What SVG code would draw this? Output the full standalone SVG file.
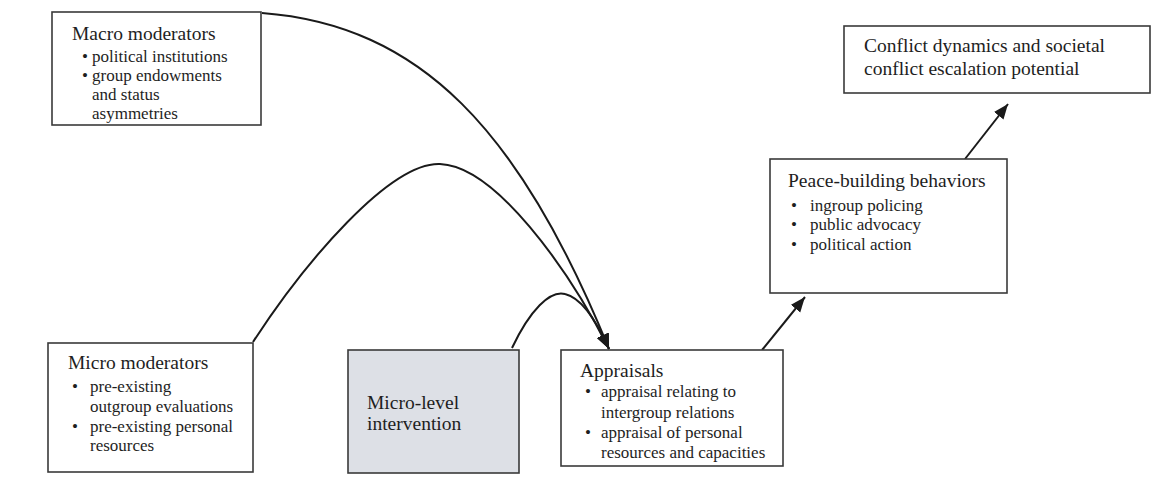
<svg xmlns="http://www.w3.org/2000/svg" width="1157" height="487" viewBox="0 0 1157 487">
<style>
  .box { fill: #ffffff; stroke: #3a3a3a; stroke-width: 1.6; }
  .gray { fill: #dde0e6; }
  .title { font-family: "Liberation Serif", "Times New Roman", serif; font-size: 19.5px; fill: #1e1e1e; }
  .item { font-family: "Liberation Serif", "Times New Roman", serif; font-size: 17px; fill: #1e1e1e; }
  .conn { fill: none; stroke: #1a1a1a; stroke-width: 2; }
</style>
<defs>
  <marker id="arrow" markerUnits="userSpaceOnUse" markerWidth="16" markerHeight="14" refX="15" refY="6" orient="auto">
    <path d="M0,0 L15,6 L0,12 z" fill="#1a1a1a"/>
  </marker>
</defs>
<rect width="1157" height="487" fill="#ffffff"/>

<g id="connectors">
  <path class="conn" d="M262,13 C420,25 520,130 609,349" marker-end="url(#arrow)"/>
  <path class="conn" d="M253,342 C305,262 390,162 440,164 C495,166 568,268 609,349" marker-end="url(#arrow)"/>
  <path class="conn" d="M512,348 C530,310 550,290 565,294 C582,298 597,322 609,349" marker-end="url(#arrow)"/>
  <path class="conn" d="M762,350 L805,297" marker-end="url(#arrow)"/>
  <path class="conn" d="M965,159 L1008,104" marker-end="url(#arrow)"/>
</g>

<g id="macro-moderators">
  <rect class="box" x="52" y="12" width="209" height="113"/>
  <text class="title" x="72" y="40">Macro moderators</text>
  <text class="item" x="82" y="62">•</text>
  <text class="item" x="92" y="62">political institutions</text>
  <text class="item" x="82" y="81">•</text>
  <text class="item" x="92" y="81">group endowments</text>
  <text class="item" x="92" y="100">and status</text>
  <text class="item" x="92" y="119">asymmetries</text>
</g>

<g id="micro-moderators">
  <rect class="box" x="48" y="343" width="205" height="129"/>
  <text class="title" x="68" y="369">Micro moderators</text>
  <text class="item" x="72" y="392">•</text>
  <text class="item" x="90" y="392">pre-existing</text>
  <text class="item" x="90" y="412">outgroup evaluations</text>
  <text class="item" x="72" y="432">•</text>
  <text class="item" x="90" y="432">pre-existing personal</text>
  <text class="item" x="90" y="451">resources</text>
</g>

<g id="micro-level-intervention">
  <rect class="box gray" x="348" y="350" width="171" height="123"/>
  <text class="title" x="367" y="409">Micro-level</text>
  <text class="title" x="367" y="430">intervention</text>
</g>

<g id="appraisals">
  <rect class="box" x="561" y="350" width="222" height="116"/>
  <text class="title" x="580" y="377">Appraisals</text>
  <text class="item" x="585" y="397">•</text>
  <text class="item" x="601" y="397">appraisal relating to</text>
  <text class="item" x="601" y="418">intergroup relations</text>
  <text class="item" x="585" y="438">•</text>
  <text class="item" x="601" y="438">appraisal of personal</text>
  <text class="item" x="601" y="458">resources and capacities</text>
</g>

<g id="peace-building-behaviors">
  <rect class="box" x="770" y="159" width="237" height="134"/>
  <text class="title" x="788" y="187">Peace-building behaviors</text>
  <text class="item" x="791" y="211">•</text>
  <text class="item" x="810" y="211">ingroup policing</text>
  <text class="item" x="791" y="230">•</text>
  <text class="item" x="810" y="230">public advocacy</text>
  <text class="item" x="791" y="250">•</text>
  <text class="item" x="810" y="250">political action</text>
</g>

<g id="conflict-dynamics">
  <rect class="box" x="844" y="26" width="306" height="67"/>
  <text class="title" x="864" y="52">Conflict dynamics and societal</text>
  <text class="title" x="864" y="75">conflict escalation potential</text>
</g>
</svg>
